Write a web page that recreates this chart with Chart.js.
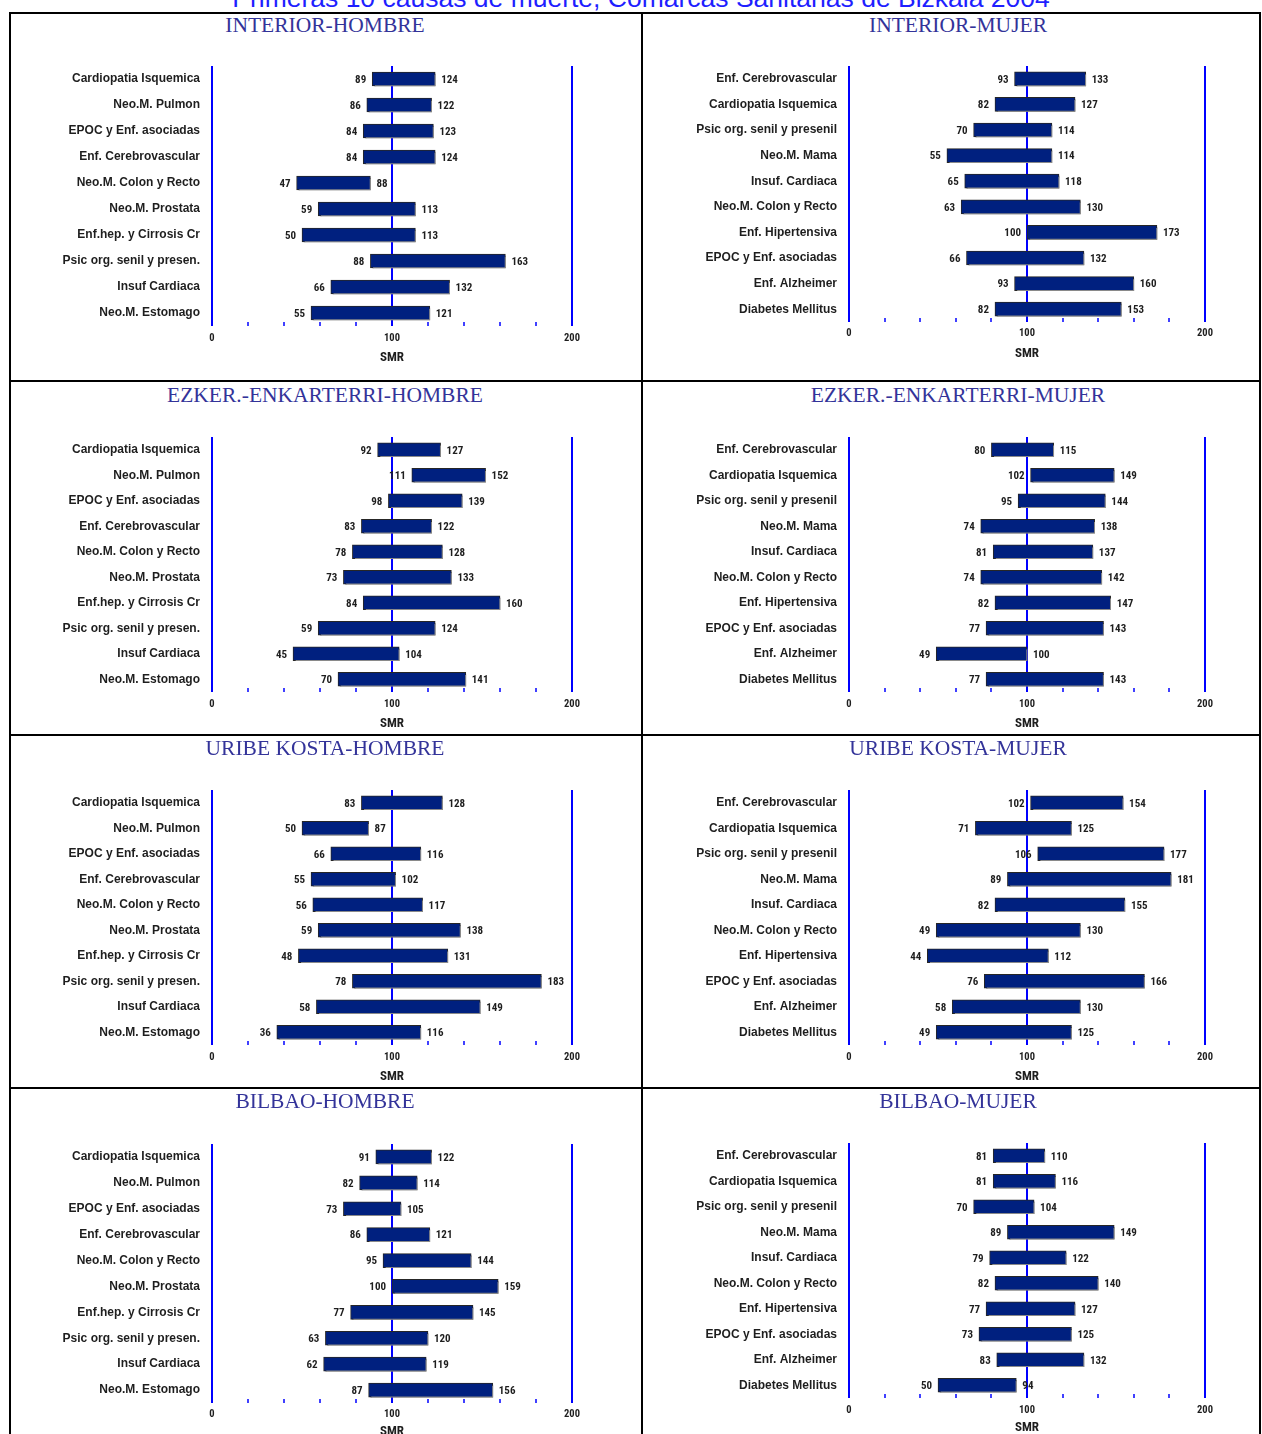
<!DOCTYPE html>
<html>
<head>
<meta charset="utf-8">
<script src="https://cdn.jsdelivr.net/npm/chart.js@4.4.0/dist/chart.umd.min.js"></script>
<style>
  body { margin: 0; background: #fff; width: 1262px; height: 1434px; overflow: hidden; position: relative; font-family: 'Liberation Sans', Arial, sans-serif; }
  #titulo { position: absolute; left: 0; width: 1282px; top: -15px; line-height: 26px; text-align: center; color: #1f1fff; font-size: 26.5px; white-space: nowrap; }
  .linea { position: absolute; background: #000; }
  .subtitulo { position: absolute; width: 600px; line-height: 20px; font-family: 'Liberation Serif', 'Times New Roman', serif; font-size: 21.5px; color: #333399; text-align: center; white-space: nowrap; }
  canvas { position: absolute; }
</style>
</head>
<body>
<div id="titulo">Primeras 10 causas de muerte, Comarcas Sanitarias de Bizkaia 2004</div>
<div class="linea" style="left:9px;top:12px;width:1252px;height:2px"></div>
<div class="linea" style="left:9px;top:12px;width:2px;height:1440px"></div>
<div class="linea" style="left:1259px;top:12px;width:2px;height:1440px"></div>
<div class="linea" style="left:641px;top:12px;width:2px;height:1440px"></div>
<div class="linea" style="left:9px;top:380px;width:1252px;height:2px"></div>
<div class="linea" style="left:9px;top:734px;width:1252px;height:2px"></div>
<div class="linea" style="left:9px;top:1087px;width:1252px;height:2px"></div>
<script>
// Causas de muerte (mismo orden en todas las comarcas)
const causasHombre = ['Cardiopatia Isquemica', 'Neo.M. Pulmon', 'EPOC y Enf. asociadas', 'Enf. Cerebrovascular',
  'Neo.M. Colon y Recto', 'Neo.M. Prostata', 'Enf.hep. y Cirrosis Cr', 'Psic org. senil y presen.',
  'Insuf Cardiaca', 'Neo.M. Estomago'];
const causasMujer = ['Enf. Cerebrovascular', 'Cardiopatia Isquemica', 'Psic org. senil y presenil', 'Neo.M. Mama',
  'Insuf. Cardiaca', 'Neo.M. Colon y Recto', 'Enf. Hipertensiva', 'EPOC y Enf. asociadas',
  'Enf. Alzheimer', 'Diabetes Mellitus'];

// SMR: limite inferior y superior del intervalo
const interiorHombreMin = [89, 86, 84, 84, 47, 59, 50, 88, 66, 55];
const interiorHombreMax = [124, 122, 123, 124, 88, 113, 113, 163, 132, 121];
const interiorMujerMin = [93, 82, 70, 55, 65, 63, 100, 66, 93, 82];
const interiorMujerMax = [133, 127, 114, 114, 118, 130, 173, 132, 160, 153];
const ezkerHombreMin = [92, 111, 98, 83, 78, 73, 84, 59, 45, 70];
const ezkerHombreMax = [127, 152, 139, 122, 128, 133, 160, 124, 104, 141];
const ezkerMujerMin = [80, 102, 95, 74, 81, 74, 82, 77, 49, 77];
const ezkerMujerMax = [115, 149, 144, 138, 137, 142, 147, 143, 100, 143];
const uribeHombreMin = [83, 50, 66, 55, 56, 59, 48, 78, 58, 36];
const uribeHombreMax = [128, 87, 116, 102, 117, 138, 131, 183, 149, 116];
const uribeMujerMin = [102, 71, 106, 89, 82, 49, 44, 76, 58, 49];
const uribeMujerMax = [154, 125, 177, 181, 155, 130, 112, 166, 130, 125];
const bilbaoHombreMin = [91, 82, 73, 86, 95, 100, 77, 63, 62, 87];
const bilbaoHombreMax = [122, 114, 105, 121, 144, 159, 145, 120, 119, 156];
const bilbaoMujerMin = [81, 81, 70, 89, 79, 82, 77, 73, 83, 50];
const bilbaoMujerMax = [110, 116, 104, 149, 122, 140, 127, 125, 132, 94];

const ticksEje = [0, 100, 200];

const paneles = [
  { titulo: 'INTERIOR-HOMBRE', causas: causasHombre, min: interiorHombreMin, max: interiorHombreMax },
  { titulo: 'INTERIOR-MUJER', causas: causasMujer, min: interiorMujerMin, max: interiorMujerMax },
  { titulo: 'EZKER.-ENKARTERRI-HOMBRE', causas: causasHombre, min: ezkerHombreMin, max: ezkerHombreMax },
  { titulo: 'EZKER.-ENKARTERRI-MUJER', causas: causasMujer, min: ezkerMujerMin, max: ezkerMujerMax },
  { titulo: 'URIBE KOSTA-HOMBRE', causas: causasHombre, min: uribeHombreMin, max: uribeHombreMax },
  { titulo: 'URIBE KOSTA-MUJER', causas: causasMujer, min: uribeMujerMin, max: uribeMujerMax },
  { titulo: 'BILBAO-HOMBRE', causas: causasHombre, min: bilbaoHombreMin, max: bilbaoHombreMax },
  { titulo: 'BILBAO-MUJER', causas: causasMujer, min: bilbaoMujerMin, max: bilbaoMujerMax }
];

// geometria de cada cuadro: columna (x del lienzo, eje 0 y 200, centro del titulo) y fila
const columnas = [
  { x: 11, w: 629, izq: 212, der: 572, centro: 325 },
  { x: 644, w: 615, izq: 849, der: 1205, centro: 958 }
];
const marcos = [
  { tit: 25, arriba: 66, abajo: 326, ejeY: 338, smrY: 358 },
  { tit: 25, arriba: 66, abajo: 322, ejeY: 333, smrY: 354 },
  { tit: 395, arriba: 437, abajo: 692, ejeY: 704, smrY: 724 },
  { tit: 395, arriba: 437, abajo: 692, ejeY: 704, smrY: 724 },
  { tit: 748, arriba: 790, abajo: 1045, ejeY: 1057, smrY: 1077 },
  { tit: 748, arriba: 790, abajo: 1045, ejeY: 1057, smrY: 1077 },
  { tit: 1101, arriba: 1144, abajo: 1403, ejeY: 1414, smrY: 1432 },
  { tit: 1101, arriba: 1143, abajo: 1398, ejeY: 1410, smrY: 1428 }
];

const estrecha = "'Liberation Sans Narrow', 'Arial Narrow', 'Roboto Condensed', 'Liberation Sans', sans-serif";
const normal = "'Liberation Sans', Arial, sans-serif";
const azul = '#0000ff';
const tinta = '#1e1e1e';

// sombra gris bajo las barras
const sombraBarras = {
  id: 'sombraBarras',
  beforeDatasetsDraw(chart) {
    const c = chart.ctx;
    c.save();
    c.shadowColor = '#8a8a8a';
    c.shadowOffsetX = 2;
    c.shadowOffsetY = 2;
    c.shadowBlur = 0;
  },
  afterDatasetsDraw(chart) {
    chart.ctx.restore();
  }
};

// valores en los extremos de cada barra
const valoresExtremos = {
  id: 'valoresExtremos',
  afterDatasetsDraw(chart) {
    const c = chart.ctx;
    const xs = chart.scales.x;
    const datos = chart.data.datasets[0].data;
    c.save();
    c.font = 'bold 11px ' + estrecha;
    c.fillStyle = tinta;
    c.textBaseline = 'middle';
    chart.getDatasetMeta(0).data.forEach((barra, i) => {
      const [lo, hi] = datos[i];
      c.textAlign = 'right';
      c.fillText(lo, xs.getPixelForValue(lo) - 6, barra.y + 1);
      c.textAlign = 'left';
      c.fillText(hi, xs.getPixelForValue(hi) + 6, barra.y + 1);
    });
    c.restore();
  }
};

paneles.forEach((p, n) => {
  const col = columnas[n % 2];
  const m = marcos[n];

  const sub = document.createElement('div');
  sub.className = 'subtitulo';
  sub.textContent = p.titulo;
  sub.style.left = (col.centro - 300) + 'px';
  sub.style.top = (m.tit - 10) + 'px';
  document.body.appendChild(sub);

  const top = m.arriba - 20;
  const bottom = m.smrY + 20;
  const cv = document.createElement('canvas');
  cv.width = col.w;
  cv.height = bottom - top;
  cv.style.left = col.x + 'px';
  cv.style.top = top + 'px';
  document.body.appendChild(cv);

  new Chart(cv, {
    type: 'bar',
    data: {
      labels: p.causas,
      datasets: [{
        data: p.min.map((v, i) => [v, p.max[i]]),
        backgroundColor: '#00207f',
        borderColor: '#262626',
        borderWidth: 1,
        borderSkipped: false,
        barThickness: 14
      }]
    },
    options: {
      indexAxis: 'y',
      responsive: false,
      animation: false,
      devicePixelRatio: 1,
      layout: { padding: { top: 20, right: col.x + col.w - col.der, left: 0, bottom: 0 } },
      plugins: { legend: { display: false }, tooltip: { enabled: false } },
      scales: {
        y: {
          grid: { display: false },
          border: { display: false },
          ticks: { color: tinta, padding: 4, font: { family: normal, size: 12, weight: 'bold' } },
          afterFit: s => { s.width = col.izq - col.x; }
        },
        x: {
          min: 0,
          max: 200,
          z: 1,
          border: { display: false },
          grid: {
            color: ctx => ticksEje.includes(ctx.tick.value) ? azul : 'transparent',
            lineWidth: ctx => ticksEje.includes(ctx.tick.value) ? 2 : 0,
            tickColor: azul,
            tickWidth: 1.5,
            tickLength: -4
          },
          ticks: {
            stepSize: 20,
            autoSkip: false,
            maxRotation: 0,
            color: tinta,
            padding: m.ejeY - m.abajo - 2,
            font: { family: estrecha, size: 10.5, weight: 'bold' },
            callback: v => ticksEje.includes(v) ? v : ''
          },
          title: {
            display: true,
            text: 'SMR',
            color: tinta,
            font: { family: estrecha, size: 13, weight: 'bold', lineHeight: 1 },
            padding: { top: 0, bottom: bottom - m.smrY - 6.5 }
          },
          afterFit: s => { s.height = bottom - m.abajo; }
        }
      }
    },
    plugins: [sombraBarras, valoresExtremos]
  });
});
</script>
</body>
</html>
